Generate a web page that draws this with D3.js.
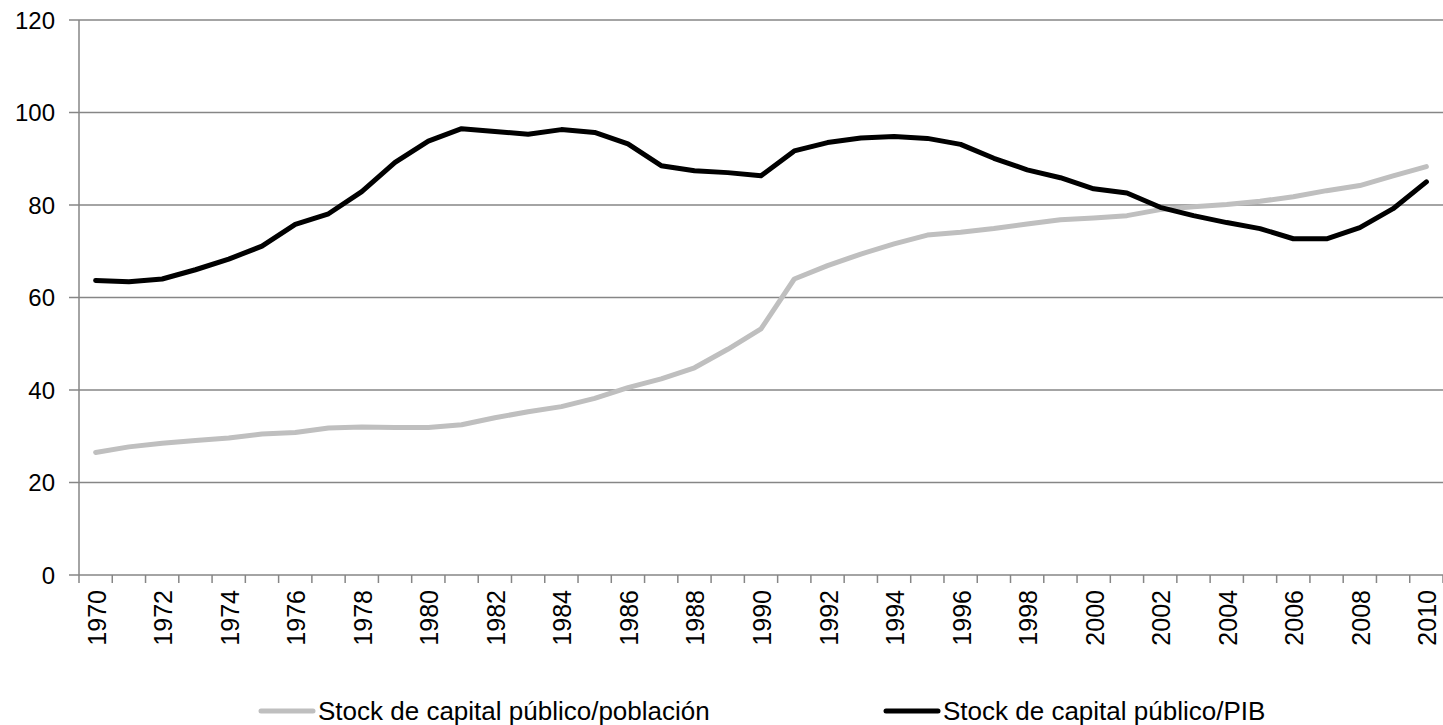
<!DOCTYPE html>
<html>
<head>
<meta charset="utf-8">
<script src="https://cdn.jsdelivr.net/npm/d3@7"></script>
<style>
  html, body { margin: 0; padding: 0; background: #fff; }
  text { font-family: Arial, "Liberation Sans", sans-serif; }
</style>
</head>
<body>
<svg id="chart" width="1443" height="725"></svg>
<script>
// Years on the category axis
const years = d3.range(1970, 2011);

// Stock de capital público/población
const poblacion = [
  26.5, 27.7, 28.5, 29.1, 29.6, 30.5, 30.8, 31.8, 32.0, 31.9,
  31.9, 32.5, 34.0, 35.3, 36.4, 38.2, 40.5, 42.4, 44.8, 48.8,
  53.2, 64.0, 66.9, 69.4, 71.6, 73.5, 74.1, 74.9, 75.9, 76.8,
  77.2, 77.7, 79.0, 79.6, 80.1, 80.8, 81.8, 83.1, 84.2, 86.3,
  88.3
];

// Stock de capital público/PIB
const pib = [
  63.7, 63.4, 64.0, 66.0, 68.3, 71.1, 75.8, 78.1, 82.9, 89.2,
  93.8, 96.5, 95.9, 95.3, 96.3, 95.7, 93.2, 88.5, 87.4, 87.0,
  86.3, 91.7, 93.5, 94.5, 94.8, 94.4, 93.1, 90.1, 87.6, 85.9,
  83.5, 82.6, 79.5, 77.7, 76.2, 74.9, 72.7, 72.7, 75.1, 79.2,
  85.0
];

const yTicks = [0, 20, 40, 60, 80, 100, 120];

const svg = d3.select("#chart");
svg.selectAll("*").remove();

const margin = { left: 79, right: 0, top: 20, bottom: 150 };
const width = 1443 - margin.left - margin.right;
const height = 725 - margin.top - margin.bottom;
const axisColor = "#868686";

const g = svg.append("g")
  .attr("transform", `translate(${margin.left},${margin.top})`);

const x = d3.scaleBand().domain(years).range([0, width]);
const y = d3.scaleLinear().domain([0, 120]).range([height, 0]);

// horizontal grid lines
g.selectAll("line.grid")
  .data(yTicks)
  .join("line")
  .attr("class", "grid")
  .attr("x1", -10)
  .attr("x2", width)
  .attr("y1", d => y(d))
  .attr("y2", d => y(d))
  .attr("stroke", axisColor)
  .attr("stroke-width", 1.5);

// y axis line
g.append("line")
  .attr("x1", 0).attr("x2", 0)
  .attr("y1", 0).attr("y2", height)
  .attr("stroke", axisColor)
  .attr("stroke-width", 1.5);

// y labels
g.selectAll("text.ylab")
  .data(yTicks)
  .join("text")
  .attr("class", "ylab")
  .attr("x", -24)
  .attr("y", d => y(d))
  .attr("dy", "0.36em")
  .attr("text-anchor", "end")
  .attr("font-size", 24)
  .attr("fill", "#000")
  .text(d => d);

// x ticks at band boundaries
const xTickPos = years.map(yr => x(yr)).concat([width]);
g.selectAll("line.xtick")
  .data(xTickPos)
  .join("line")
  .attr("class", "xtick")
  .attr("x1", d => d).attr("x2", d => d)
  .attr("y1", height).attr("y2", height + 8)
  .attr("stroke", axisColor)
  .attr("stroke-width", 1.5);

// x labels, every second year, rotated
g.selectAll("text.xlab")
  .data(years.filter((yr, i) => i % 2 === 0))
  .join("text")
  .attr("class", "xlab")
  .attr("transform", d => `translate(${x(d) + x.bandwidth() / 2 + 1},${height + 15}) rotate(-90)`)
  .attr("dy", "0.36em")
  .attr("text-anchor", "end")
  .attr("font-size", 25)
  .attr("fill", "#000")
  .text(d => d);

const line = d3.line()
  .x((d, i) => x(years[i]) + x.bandwidth() / 2)
  .y(d => y(d));

g.append("path")
  .datum(poblacion)
  .attr("d", line)
  .attr("fill", "none")
  .attr("stroke", "#bfbfbf")
  .attr("stroke-width", 5)
  .attr("stroke-linejoin", "round")
  .attr("stroke-linecap", "round");

g.append("path")
  .datum(pib)
  .attr("d", line)
  .attr("fill", "none")
  .attr("stroke", "#000")
  .attr("stroke-width", 5)
  .attr("stroke-linejoin", "round")
  .attr("stroke-linecap", "round");

// legend
const legendItems = [
  { name: "Stock de capital público/población", color: "#bfbfbf", x: 261 },
  { name: "Stock de capital público/PIB", color: "#000", x: 886 }
];
const legend = svg.selectAll("g.legend")
  .data(legendItems)
  .join("g")
  .attr("class", "legend")
  .attr("transform", d => `translate(${d.x},711)`);

legend.append("line")
  .attr("x1", 0).attr("x2", 52)
  .attr("y1", 0).attr("y2", 0)
  .attr("stroke", d => d.color)
  .attr("stroke-width", 5)
  .attr("stroke-linecap", "round");

legend.append("text")
  .attr("x", 57)
  .attr("y", 0)
  .attr("dy", "0.34em")
  .attr("font-size", 26)
  .attr("fill", "#000")
  .text(d => d.name);
</script>
</body>
</html>
